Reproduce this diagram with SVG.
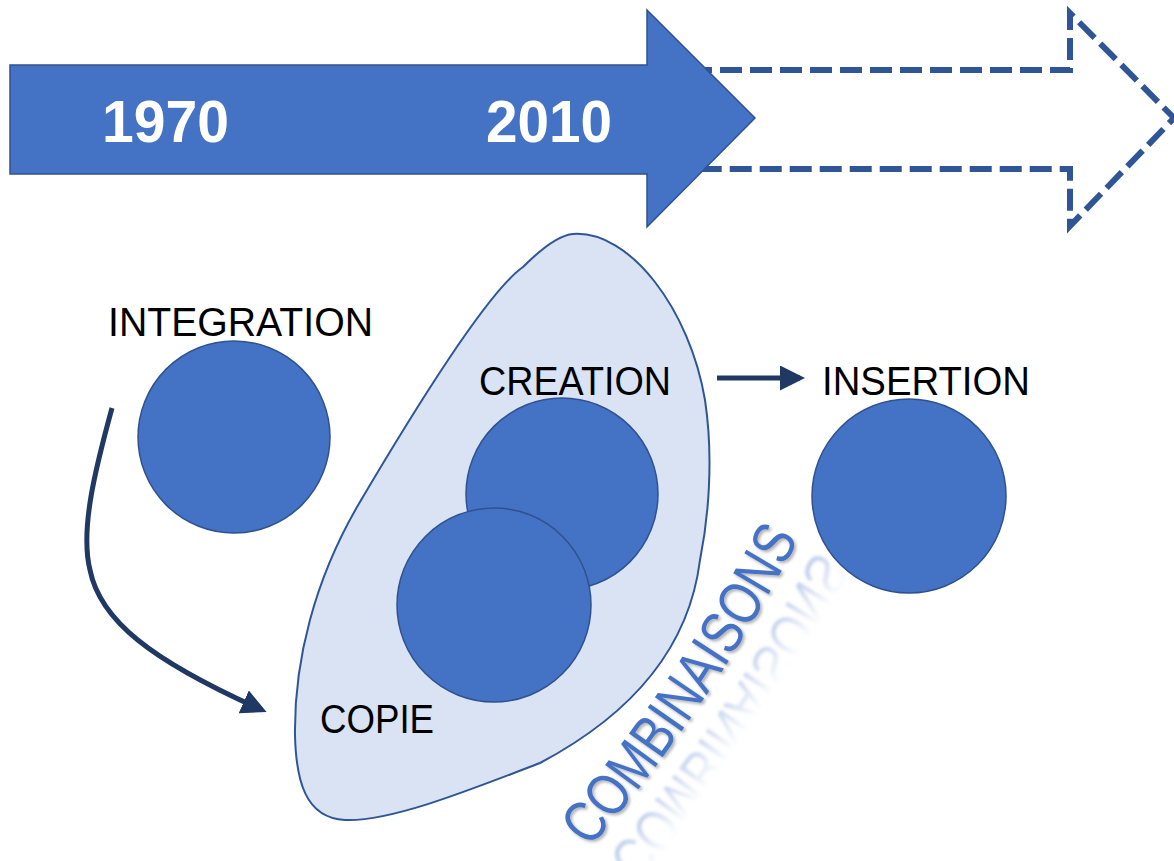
<svg xmlns="http://www.w3.org/2000/svg" width="1174" height="861" viewBox="0 0 1174 861">
<style>
.node{fill:#4472C4;stroke:#2F528F;stroke-width:1.5}
.lbl{font-family:"Liberation Sans",Arial,sans-serif;font-size:40px;fill:#000}
.yr{font-family:"Liberation Sans",Arial,sans-serif;font-size:60px;font-weight:bold;fill:#fff}
.conn{fill:none;stroke:#203864;stroke-width:5}
.comb{font-family:"Liberation Sans",Arial,sans-serif;font-size:60px}
</style>
<defs>
<marker id="ah" viewBox="0 0 10 10" refX="8" refY="5" markerWidth="5" markerHeight="5" orient="auto" markerUnits="strokeWidth">
<path d="M0,0 L10,5 L0,10 Z" fill="#203864"/>
</marker>
<path id="arc" d="M0 0 Q233 22 468 0"/>
<path id="arcR" d="M0 0 Q233 -22 468 0"/>
<linearGradient id="refl" gradientUnits="userSpaceOnUse" x1="0" y1="-6" x2="0" y2="-44">
<stop offset="0" stop-color="#4472C4" stop-opacity="0.32"/>
<stop offset="1" stop-color="#4472C4" stop-opacity="0"/>
</linearGradient>
<filter id="sh" x="-10%" y="-10%" width="120%" height="120%">
<feDropShadow dx="2" dy="2" stdDeviation="1.5" flood-color="#000" flood-opacity="0.3"/>
</filter>
<filter id="blur" x="-10%" y="-10%" width="120%" height="120%">
<feGaussianBlur stdDeviation="1.8"/>
</filter>
</defs>

<g id="timeline-future">
<path d="M600 70 L1070 70 L1070 13 L1174 118 L1070 226 L1070 169 L600 169" fill="none" stroke="#2F5597" stroke-width="6" stroke-dasharray="22 8"/>
</g>
<g id="timeline">
<path d="M10 65 L647 65 L647 10 L755 118 L647 227 L647 174 L10 174 Z" fill="#4472C4" stroke="#2F528F" stroke-width="1.5"/>
<text class="yr" x="102" y="142" textLength="127" lengthAdjust="spacingAndGlyphs">1970</text>
<text class="yr" x="486" y="142" textLength="126" lengthAdjust="spacingAndGlyphs">2010</text>
</g>

<g id="combinaisons-zone">
<path d="M573 234 C630 230 690 310 705 400 C714 460 708 520 700 560 C690 640 640 710 540 763 C470 790 390 822 345 820 C305 818 296 780 295 735 C294 660 315 580 357 507 C420 400 490 290 523 267 C545 245 560 235 573 234 Z" fill="#DAE3F3" stroke="#2F5597" stroke-width="2"/>
</g>

<g id="integration">
<circle class="node" cx="234" cy="437" r="96"/>
<text class="lbl" x="108" y="336" textLength="265" lengthAdjust="spacingAndGlyphs">INTEGRATION</text>
</g>
<g id="creation">
<circle class="node" cx="562" cy="494" r="96"/>
<text class="lbl" x="479" y="395" textLength="192" lengthAdjust="spacingAndGlyphs">CREATION</text>
</g>
<g id="copie">
<circle class="node" cx="494" cy="605" r="97"/>
<text class="lbl" x="320" y="733" textLength="114" lengthAdjust="spacingAndGlyphs">COPIE</text>
</g>
<g id="insertion">
<circle class="node" cx="909" cy="496" r="97"/>
<text class="lbl" x="822" y="395" textLength="208" lengthAdjust="spacingAndGlyphs">INSERTION</text>
</g>

<g id="connectors">
<path class="conn" d="M112 408 C95 470 80 530 90 570 C100 620 150 660 262 710" marker-end="url(#ah)"/>
<path class="conn" d="M717 378 L800 378" marker-end="url(#ah)"/>
</g>

<g id="combinaisons-label">
<g filter="url(#blur)">
<g transform="translate(590 848) rotate(-56) scale(0.8 1) translate(0 20) scale(1 -1)">
<text class="comb" fill="url(#refl)"><textPath href="#arcR">COMBINAISONS</textPath></text>
</g>
</g>
<g filter="url(#sh)">
<g transform="translate(590 848) rotate(-56) scale(0.8 1)">
<text class="comb" fill="#4472C4"><textPath href="#arc">COMBINAISONS</textPath></text>
</g>
</g>
</g>
</svg>
